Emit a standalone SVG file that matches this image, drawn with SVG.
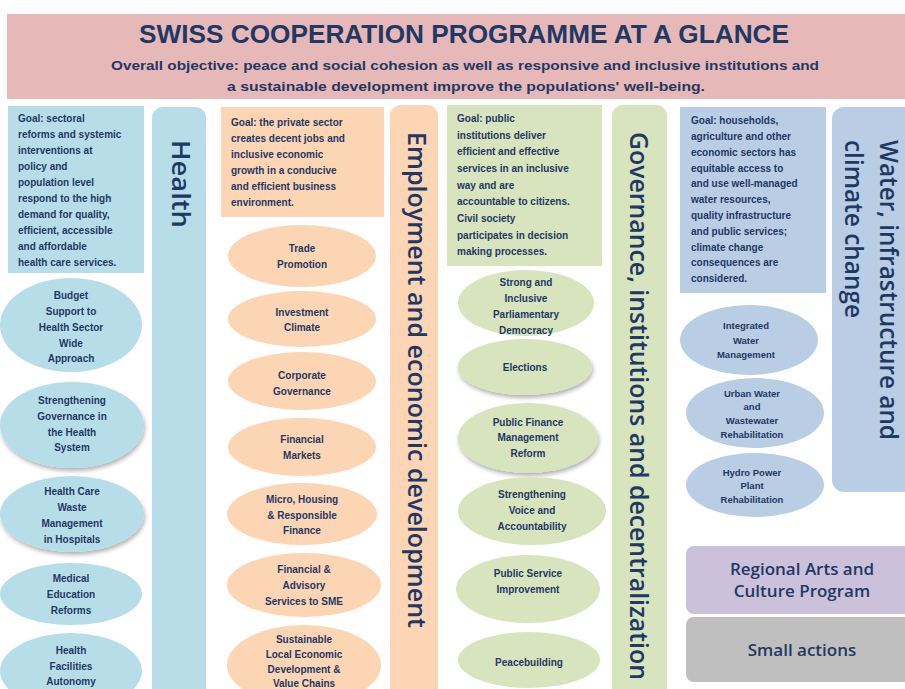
<svg xmlns="http://www.w3.org/2000/svg" width="905" height="689" viewBox="0 0 905 689">
<defs>
<filter id="sh" x="-20%" y="-20%" width="140%" height="150%"><feDropShadow dx="1" dy="3" stdDeviation="2" flood-color="#000" flood-opacity="0.3"/></filter>
<style>
text{font-family:"Liberation Sans",Arial,sans-serif;fill:#1f3864;dominant-baseline:central}
.t{font-size:26px;font-weight:bold;text-anchor:middle}
.s{font-size:13px;font-weight:bold;text-anchor:middle}
.g{font-size:10px;font-weight:bold}
.e{font-size:10px;font-weight:bold;text-anchor:middle}
.w{font-size:9.5px;font-weight:bold;text-anchor:middle}
.v{font-family:"Open Sans","Liberation Sans",sans-serif;font-size:26px;font-weight:600}
.b{font-family:"Open Sans","Liberation Sans",sans-serif;font-size:17px;font-weight:600;text-anchor:middle}
.hl{fill:#b7dee8}.em{fill:#fcd5b5}.gv{fill:#d7e4bd}.wt{fill:#b9cde5}
</style>
</defs>
<rect width="905" height="689" fill="#fff"/>
<g id="header">
<rect x="7" y="14" width="900" height="85" fill="#e6b9b8"/>
<text class="t" x="464" y="34" textLength="650" lengthAdjust="spacingAndGlyphs">SWISS COOPERATION PROGRAMME AT A GLANCE</text>
<text class="s" x="465" y="65" textLength="708" lengthAdjust="spacingAndGlyphs">Overall  objective: peace  and social cohesion as well  as responsive and inclusive institutions and</text>
<text class="s" x="466" y="86" textLength="478" lengthAdjust="spacingAndGlyphs">a sustainable development  improve  the populations' well-being.</text>
</g>
<g id="health">
<rect class="hl" x="8" y="106" width="136" height="167"/>
<text class="g"><tspan x="18" y="118">Goal: sectoral</tspan><tspan x="18" y="134">reforms and systemic</tspan><tspan x="18" y="150">interventions at</tspan><tspan x="18" y="166">policy and</tspan><tspan x="18" y="182">population level</tspan><tspan x="18" y="198">respond to the high</tspan><tspan x="18" y="214">demand for quality,</tspan><tspan x="18" y="230">efficient, accessible</tspan><tspan x="18" y="246">and affordable</tspan><tspan x="18" y="262">health care services.</tspan></text>
<path class="hl" d="M152 689V118a11 11 0 0 1 11-11h32a11 11 0 0 1 11 11V689z"/>
<text class="v" transform="translate(182,140) rotate(90)" textLength="88" lengthAdjust="spacingAndGlyphs">Health</text>
</g>
<g id="h1"><ellipse class="hl" cx="71" cy="325" rx="71" ry="47"/><text class="e"><tspan x="71" y="295">Budget</tspan><tspan x="71" y="311">Support to</tspan><tspan x="71" y="327">Health Sector</tspan><tspan x="71" y="343">Wide</tspan><tspan x="71" y="358">Approach</tspan></text></g>
<g id="h2"><ellipse class="hl" cx="72" cy="425" rx="72" ry="43" filter="url(#sh)"/><text class="e"><tspan x="72" y="400">Strengthening</tspan><tspan x="72" y="416">Governance in</tspan><tspan x="72" y="432">the Health</tspan><tspan x="72" y="447">System</tspan></text></g>
<g id="h3"><ellipse class="hl" cx="72" cy="514" rx="72" ry="38" filter="url(#sh)"/><text class="e"><tspan x="72" y="491">Health Care</tspan><tspan x="72" y="507">Waste</tspan><tspan x="72" y="523">Management</tspan><tspan x="72" y="539">in Hospitals</tspan></text></g>
<g id="h4"><ellipse class="hl" cx="71" cy="594" rx="71" ry="31"/><text class="e"><tspan x="71" y="578">Medical</tspan><tspan x="71" y="594">Education</tspan><tspan x="71" y="610">Reforms</tspan></text></g>
<g id="h5"><ellipse class="hl" cx="71" cy="671" rx="71" ry="38"/><text class="e"><tspan x="71" y="650">Health</tspan><tspan x="71" y="666">Facilities</tspan><tspan x="71" y="681">Autonomy</tspan></text></g>
<g id="employment">
<rect class="em" x="221" y="107" width="163" height="110"/>
<text class="g"><tspan x="231" y="122">Goal: the private sector</tspan><tspan x="231" y="138">creates decent jobs and</tspan><tspan x="231" y="154">inclusive economic</tspan><tspan x="231" y="170">growth  in a conducive</tspan><tspan x="231" y="186">and efficient business</tspan><tspan x="231" y="202">environment.</tspan></text>
<path class="em" d="M390 689V116a11 11 0 0 1 11-11h26a11 11 0 0 1 11 11V689z"/>
<text class="v" transform="translate(418,132) rotate(90)" textLength="496" lengthAdjust="spacingAndGlyphs">Employment and economic development</text>
</g>
<g id="e1"><ellipse class="em" cx="302" cy="256" rx="74" ry="31"/><text class="e"><tspan x="302" y="248">Trade</tspan><tspan x="302" y="264">Promotion</tspan></text></g>
<g id="e2"><ellipse class="em" cx="302" cy="319" rx="74" ry="28"/><text class="e"><tspan x="302" y="312">Investment</tspan><tspan x="302" y="327">Climate</tspan></text></g>
<g id="e3"><ellipse class="em" cx="302" cy="381" rx="74" ry="29"/><text class="e"><tspan x="302" y="375">Corporate</tspan><tspan x="302" y="391">Governance</tspan></text></g>
<g id="e4"><ellipse class="em" cx="302" cy="447" rx="74" ry="29"/><text class="e"><tspan x="302" y="439">Financial</tspan><tspan x="302" y="455">Markets</tspan></text></g>
<g id="e5"><ellipse class="em" cx="302" cy="514" rx="75" ry="31"/><text class="e"><tspan x="302" y="499">Micro, Housing</tspan><tspan x="302" y="515">&amp; Responsible</tspan><tspan x="302" y="530">Finance</tspan></text></g>
<g id="e6"><ellipse class="em" cx="304" cy="585" rx="77" ry="32"/><text class="e"><tspan x="304" y="569">Financial &amp;</tspan><tspan x="304" y="585">Advisory</tspan><tspan x="304" y="601">Services to SME</tspan></text></g>
<g id="e7"><ellipse class="em" cx="304" cy="665" rx="77" ry="40"/><text class="e"><tspan x="304" y="639">Sustainable</tspan><tspan x="304" y="654">Local Economic</tspan><tspan x="304" y="669">Development &amp;</tspan><tspan x="304" y="683">Value Chains</tspan></text></g>
<g id="governance">
<rect class="gv" x="447" y="105" width="155" height="161"/>
<text class="g"><tspan x="457" y="118">Goal: public</tspan><tspan x="457" y="135">institutions deliver</tspan><tspan x="457" y="151">efficient and effective</tspan><tspan x="457" y="168">services in an inclusive</tspan><tspan x="457" y="185">way and are</tspan><tspan x="457" y="201">accountable to citizens.</tspan><tspan x="457" y="218">Civil society</tspan><tspan x="457" y="235">participates in decision</tspan><tspan x="457" y="251">making processes.</tspan></text>
<path class="gv" d="M612 689V116a11 11 0 0 1 11-11h33a11 11 0 0 1 11 11V689z"/>
<text class="v" transform="translate(640,132) rotate(90)" textLength="548" lengthAdjust="spacingAndGlyphs">Governance, institutions and decentralization</text>
</g>
<g id="g1"><ellipse class="gv" cx="526" cy="303" rx="68" ry="33"/><text class="e"><tspan x="526" y="282">Strong and</tspan><tspan x="526" y="298">Inclusive</tspan><tspan x="526" y="314">Parliamentary</tspan><tspan x="526" y="330">Democracy</tspan></text></g>
<g id="g2"><ellipse class="gv" cx="525" cy="367" rx="67" ry="28" filter="url(#sh)"/><text class="e" x="525" y="367">Elections</text></g>
<g id="g3"><ellipse class="gv" cx="528" cy="438" rx="70" ry="35" filter="url(#sh)"/><text class="e"><tspan x="528" y="422">Public Finance</tspan><tspan x="528" y="437">Management</tspan><tspan x="528" y="453">Reform</tspan></text></g>
<g id="g4"><ellipse class="gv" cx="532" cy="511" rx="74" ry="34"/><text class="e"><tspan x="532" y="494">Strengthening</tspan><tspan x="532" y="510">Voice and</tspan><tspan x="532" y="526">Accountability</tspan></text></g>
<g id="g5"><ellipse class="gv" cx="528" cy="589" rx="72" ry="34"/><text class="e"><tspan x="528" y="573">Public Service</tspan><tspan x="528" y="589">Improvement</tspan></text></g>
<g id="g6"><ellipse class="gv" cx="529" cy="660" rx="71" ry="28"/><text class="e" x="529" y="662">Peacebuilding</text></g>
<g id="water">
<rect class="wt" x="680" y="107" width="146" height="186"/>
<text class="g"><tspan x="691" y="120">Goal: households,</tspan><tspan x="691" y="136">agriculture and other</tspan><tspan x="691" y="152">economic sectors has</tspan><tspan x="691" y="168">equitable access to</tspan><tspan x="691" y="183">and use well-managed</tspan><tspan x="691" y="199">water resources,</tspan><tspan x="691" y="215">quality infrastructure</tspan><tspan x="691" y="231">and public services;</tspan><tspan x="691" y="247">climate change</tspan><tspan x="691" y="262">consequences are</tspan><tspan x="691" y="278">considered.</tspan></text>
<rect class="wt" x="832" y="107" width="90" height="385" rx="12"/>
<text class="v" transform="translate(890,140) rotate(90)" textLength="300" lengthAdjust="spacingAndGlyphs">Water, infrastructure and</text>
<text class="v" transform="translate(855,140) rotate(90)" textLength="178" lengthAdjust="spacingAndGlyphs">climate change</text>
</g>
<g id="w1"><ellipse class="wt" cx="749" cy="340" rx="69" ry="35"/><text class="w"><tspan x="746" y="325">Integrated</tspan><tspan x="746" y="340">Water</tspan><tspan x="746" y="354">Management</tspan></text></g>
<g id="w2"><ellipse class="wt" cx="755" cy="413" rx="69" ry="35"/><text class="w"><tspan x="752" y="393">Urban Water</tspan><tspan x="752" y="406">and</tspan><tspan x="752" y="420">Wastewater</tspan><tspan x="752" y="434">Rehabilitation</tspan></text></g>
<g id="w3"><ellipse class="wt" cx="755" cy="485" rx="69" ry="32"/><text class="w"><tspan x="752" y="472">Hydro Power</tspan><tspan x="752" y="485">Plant</tspan><tspan x="752" y="499">Rehabilitation</tspan></text></g>
<g id="regional"><rect x="686" y="546" width="230" height="68" rx="8" fill="#ccc1da"/><text class="b"><tspan x="802" y="568">Regional Arts and</tspan><tspan x="802" y="590">Culture Program</tspan></text></g>
<g id="small"><rect x="686" y="617" width="230" height="65" rx="8" fill="#bfbfbf"/><text class="b" x="802" y="649">Small actions</text></g>
<g id="connectors"/>
</svg>
